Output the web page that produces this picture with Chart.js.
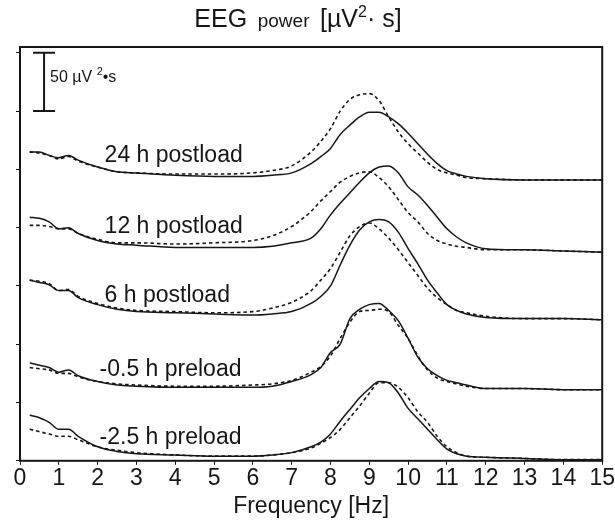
<!DOCTYPE html>
<html>
<head>
<meta charset="utf-8">
<script src="https://cdn.jsdelivr.net/npm/chart.js@4.4.1/dist/chart.umd.min.js"></script>
<style>
  body { margin: 0; background: #fff; }
</style>
</head>
<body>
<canvas id="eegChart" width="615" height="523"></canvas>
<script>
'use strict';

// frequency bins (Hz), finer around the alpha peak
let freqs = [0.25, 0.5, 0.75, 1, 1.25, 1.5, 2, 2.5, 3, 4, 5, 6, 6.5, 7, 7.5, 7.75,
  8, 8.25, 8.5, 8.75, 9, 9.25, 9.5, 9.75, 10, 10.25, 10.5, 10.75, 11, 11.25, 11.5, 12, 13, 14, 15];

let xTicks = [0, 1, 2, 3, 4, 5, 6, 7, 8, 9, 10, 11, 12, 13, 14, 15];

// stacked EEG power [uV^2*s], each pair shifted up by its own offset
let h24Solid = [265, 265, 262, 260, 262, 258, 252, 248, 247, 245, 244, 244, 245, 247, 255, 261,
  268, 280, 288, 295, 299, 299, 295, 289, 281, 272, 263, 255, 249, 246, 244, 242, 241, 241, 241];
let h24Dashed = [265, 264, 262, 259, 261, 257, 252, 248, 247, 246, 246, 247, 249, 253, 265, 274,
  285, 300, 310, 314, 315, 309, 295, 282, 272, 264, 256, 250, 247, 245, 243, 242, 241, 241, 241];

let h12Solid = [209, 208, 205, 199, 200, 195, 189, 186, 185, 183, 183, 183, 184, 187, 191, 199,
  211, 221, 230, 239, 247, 252, 253, 247, 235, 228, 219, 209, 199, 192, 187, 182, 181, 180, 179];
let h12Dashed = [202, 202, 201, 199, 199, 195, 190, 187, 187, 186, 187, 189, 193, 201, 214, 223,
  231, 239, 244, 247, 248, 243, 235, 224, 213, 205, 195, 189, 186, 184, 183, 181, 181, 180, 179];

let h6Solid = [155, 153, 151, 146, 146, 140, 134, 130, 128, 127, 126, 125, 126, 128, 135, 141,
  150, 168, 185, 198, 205, 207, 205, 196, 182, 169, 155, 144, 134, 129, 126, 123, 122, 122, 121];
let h6Dashed = [155, 154, 152, 146, 147, 141, 135, 131, 129, 128, 127, 128, 131, 136, 146, 155,
  165, 179, 193, 201, 204, 199, 191, 181, 170, 159, 148, 140, 134, 129, 127, 124, 122, 122, 121];

let pre05Solid = [84, 82, 80, 76, 78, 73, 68, 65, 64, 63, 63, 63, 64, 68, 74, 80,
  93, 100, 122, 130, 134, 135, 129, 120, 105, 89, 79, 73, 69, 67, 65, 62, 62, 61, 61];
let pre05Dashed = [80, 79, 78, 75, 75, 72, 68, 66, 65, 64, 64, 65, 66, 69, 76, 81,
  90, 105, 119, 128, 129, 130, 128, 116, 105, 90, 78, 71, 68, 66, 64, 62, 62, 61, 61];

let pre25Solid = [39, 37, 33, 27, 27, 21, 12, 8, 6, 5, 4, 4, 5, 7, 12, 16,
  23, 34, 44, 54, 62, 68, 67, 58, 45, 36, 27, 18, 10, 6, 4, 3, 2, 1, 1];
let pre25Dashed = [27, 25, 23, 21, 21, 18, 12, 9, 7, 5, 4, 4, 5, 7, 11, 15,
  20, 27, 37, 47, 58, 67, 67, 63, 54, 42, 33, 21, 12, 7, 4, 3, 2, 1, 1];

let groupNames = ['24 h postload', '12 h postload', '6 h postload', '-0.5 h preload', '-2.5 h preload'];
let solidSeries = [h24Solid, h12Solid, h6Solid, pre05Solid, pre25Solid];
let dashedSeries = [h24Dashed, h12Dashed, h6Dashed, pre05Dashed, pre25Dashed];

// where the group names sit (Hz, power units)
let labelSpots = [[2.18, 262], [2.18, 201], [2.18, 142], [2.05, 78], [2.05, 20]];

// 50 uV^2*s calibration bar
let scaleBarFreq = 0.62;
let scaleBarFrom = 300;
let scaleBarTo = 350;

const FONT = '"Liberation Sans", Arial, Helvetica, sans-serif';
const INK = '#161616';

function toPoints(values) {
  return freqs.map(function (f, i) { return { x: f, y: values[i] }; });
}

let datasets = [];
for (let i = 0; i < groupNames.length; i++) {
  datasets.push({
    label: groupNames[i] + ' solid',
    data: toPoints(solidSeries[i]),
    borderColor: INK,
    borderWidth: 1.5,
    cubicInterpolationMode: 'monotone',
    pointRadius: 0,
    fill: false
  });
  datasets.push({
    label: groupNames[i] + ' dashed',
    data: toPoints(dashedSeries[i]),
    borderColor: INK,
    borderWidth: 1.6,
    borderDash: [3.5, 3],
    cubicInterpolationMode: 'monotone',
    pointRadius: 0,
    fill: false
  });
}

function drawRich(ctx, parts, cx, cy) {
  let total = 0;
  parts.forEach(function (p) {
    ctx.font = p.size + 'px ' + FONT;
    p.w = ctx.measureText(p.text).width;
    total += p.w;
  });
  let x = cx - total / 2;
  ctx.textAlign = 'left';
  ctx.textBaseline = 'alphabetic';
  parts.forEach(function (p) {
    ctx.font = p.size + 'px ' + FONT;
    ctx.fillText(p.text, x, cy + (p.dy || 0));
    x += p.w;
  });
}

const decorations = {
  id: 'decorations',
  afterDraw(chart) {
    const ctx = chart.ctx;
    const area = chart.chartArea;
    const xs = chart.scales.x;
    const ys = chart.scales.y;
    ctx.save();
    ctx.fillStyle = INK;
    ctx.strokeStyle = INK;

    // frame
    ctx.lineWidth = 2;
    ctx.strokeRect(area.left, area.top, area.right - area.left, area.bottom - area.top);

    // title
    drawRich(ctx, [
      { text: 'EEG', size: 25 },
      { text: '  power  ', size: 19 },
      { text: '[\u00b5V', size: 25 },
      { text: '2', size: 16, dy: -10 },
      { text: '\u00b7 s]', size: 25 }
    ], 298, 27);

    // calibration bar
    let bx = xs.getPixelForValue(scaleBarFreq);
    let by1 = ys.getPixelForValue(scaleBarFrom);
    let by2 = ys.getPixelForValue(scaleBarTo);
    ctx.lineWidth = 2;
    ctx.beginPath();
    ctx.moveTo(bx, by1); ctx.lineTo(bx, by2);
    ctx.moveTo(bx - 11, by1); ctx.lineTo(bx + 11, by1);
    ctx.moveTo(bx - 11, by2); ctx.lineTo(bx + 11, by2);
    ctx.stroke();
    ctx.font = '16px ' + FONT;
    let ty = ys.getPixelForValue(330) + 6;
    ctx.textAlign = 'left';
    ctx.fillText('50 \u00b5V', bx + 6, ty);
    let w = ctx.measureText('50 \u00b5V ').width;
    ctx.font = '11px ' + FONT;
    ctx.fillText('2', bx + 6 + w, ty - 7);
    let w2 = ctx.measureText('2').width;
    ctx.font = '16px ' + FONT;
    ctx.fillText('\u2022s', bx + 6 + w + w2, ty);

    // group names
    ctx.font = '23px ' + FONT;
    ctx.textBaseline = 'middle';
    for (let i = 0; i < groupNames.length; i++) {
      ctx.fillText(groupNames[i], xs.getPixelForValue(labelSpots[i][0]), ys.getPixelForValue(labelSpots[i][1]));
    }
    ctx.restore();
  }
};

const ctx = document.getElementById('eegChart');

new Chart(ctx, {
  type: 'line',
  data: { datasets: datasets },
  options: {
    responsive: false,
    animation: false,
    layout: { padding: { left: 16, right: 12, top: 47, bottom: 3 } },
    plugins: {
      legend: { display: false },
      tooltip: { enabled: false },
      title: { display: false }
    },
    scales: {
      x: {
        type: 'linear',
        min: 0,
        max: 15,
        afterBuildTicks: function (scale) {
          scale.ticks = xTicks.map(function (v) { return { value: v }; });
        },
        ticks: {
          color: INK,
          font: { family: FONT, size: 23 },
          padding: 0,
          maxRotation: 0,
          autoSkip: false
        },
        grid: { drawOnChartArea: false, tickLength: 4, color: INK },
        border: { display: false },
        title: {
          display: true,
          text: 'Frequency [Hz]',
          color: INK,
          font: { family: FONT, size: 23 },
          padding: { top: 0, bottom: 0 }
        }
      },
      y: {
        min: 0,
        max: 355,
        ticks: { display: false, stepSize: 50, includeBounds: false },
        grid: { drawOnChartArea: false, tickLength: 4, color: INK },
        border: { display: false }
      }
    }
  },
  plugins: [decorations]
});
</script>
</body>
</html>
